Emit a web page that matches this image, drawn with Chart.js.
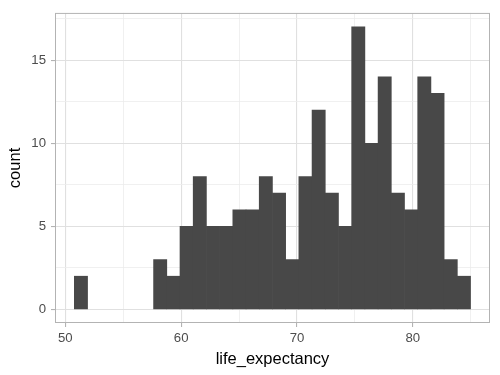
<!DOCTYPE html>
<html>
<head>
<meta charset="utf-8">
<script src="https://cdn.jsdelivr.net/npm/chart.js@4"></script>
<style>
  html, body { margin: 0; padding: 0; background: #ffffff; }
  canvas { display: block; }
</style>
</head>
<body>
<canvas id="histograma" width="500" height="375"></canvas>
<script>
// Centros das classes (largura ~1.14) e contagens
const binCenters = [51.35, 52.49, 53.63, 54.77, 55.91, 57.05, 58.19, 59.33, 60.47, 61.61,
  62.75, 63.89, 65.03, 66.17, 67.31, 68.45, 69.59, 70.73, 71.87, 73.01,
  74.15, 75.29, 76.43, 77.57, 78.71, 79.85, 80.99, 82.13, 83.27, 84.41];
const counts = [2, 0, 0, 0, 0, 0, 3, 2, 5, 8,
  5, 5, 6, 6, 8, 7, 3, 8, 12, 7,
  5, 17, 10, 14, 7, 6, 14, 13, 3, 2];
const xTicks = [50, 55, 60, 65, 70, 75, 80, 85];
const xLabels = [50, 60, 70, 80];
const yTicks = [0, 2.5, 5, 7.5, 10, 12.5, 15, 17.5];
const yLabels = [0, 5, 10, 15];

const corMaior = "#e0e0e0";
const corMenor = "#ececec";
const corBorda = "#b3b3b3";

// Borda do painel por cima de tudo (como no ggplot)
const bordaPainel = {
  id: "bordaPainel",
  afterDraw(chart) {
    const a = chart.chartArea;
    const c = chart.ctx;
    c.save();
    c.strokeStyle = corBorda;
    c.lineWidth = 1;
    c.strokeRect(a.left + 0.5, a.top + 0.5, a.right - a.left - 1, a.bottom - a.top - 1);
    c.restore();
  }
};

const ctx = document.getElementById("histograma").getContext("2d");
Chart.defaults.font.family = "'Liberation Sans', Arial, sans-serif";

new Chart(ctx, {
  type: "bar",
  data: {
    datasets: [{
      data: binCenters.map((x, i) => ({ x: x, y: counts[i] })),
      backgroundColor: "#484848",
      borderWidth: 0,
      // classes vazias não devem deixar risco no zero
      inflateAmount: (c) => (c.raw && c.raw.y === 0) ? 0 : "auto",
      barPercentage: 1,
      categoryPercentage: 1
    }]
  },
  options: {
    responsive: false,
    animation: false,
    layout: { padding: { top: 9, right: 10, left: 0, bottom: 0 } },
    plugins: { legend: { display: false }, tooltip: { enabled: false } },
    scales: {
      x: {
        type: "linear",
        min: 49.11,
        max: 86.66,
        offset: false,
        afterBuildTicks: (axis) => { axis.ticks = xTicks.map(v => ({ value: v })); },
        afterFit: (scale) => { scale.height = 52; },
        grid: {
          offset: false,
          color: (c) => xLabels.includes(c.tick.value) ? corMaior : corMenor,
          lineWidth: (c) => xLabels.includes(c.tick.value) ? 1.1 : 0.8,
          tickColor: (c) => xLabels.includes(c.tick.value) ? corBorda : "rgba(0,0,0,0)",
          tickLength: 4
        },
        border: { display: false },
        ticks: {
          autoSkip: false,
          maxRotation: 0,
          padding: 3,
          color: "#4d4d4d",
          font: { size: 13.2 },
          callback: (v) => xLabels.includes(v) ? String(v) : ""
        },
        title: {
          display: true,
          text: "life_expectancy",
          color: "#000000",
          font: { size: 16.5 },
          padding: { top: 2, bottom: 6 }
        }
      },
      y: {
        min: -0.815,
        max: 17.84,
        afterBuildTicks: (axis) => { axis.ticks = yTicks.map(v => ({ value: v })); },
        afterFit: (scale) => { scale.width = 55; },
        grid: {
          color: (c) => yLabels.includes(c.tick.value) ? corMaior : corMenor,
          lineWidth: (c) => yLabels.includes(c.tick.value) ? 1.1 : 0.8,
          tickColor: (c) => yLabels.includes(c.tick.value) ? corBorda : "rgba(0,0,0,0)",
          tickLength: 4
        },
        border: { display: false },
        ticks: {
          autoSkip: false,
          padding: 5,
          color: "#4d4d4d",
          font: { size: 13.2 },
          callback: (v) => yLabels.includes(v) ? String(v) : ""
        },
        title: {
          display: true,
          text: "count",
          color: "#000000",
          font: { size: 16.5 },
          padding: { top: 6, bottom: 4 }
        }
      }
    }
  },
  plugins: [bordaPainel]
});
</script>
</body>
</html>
